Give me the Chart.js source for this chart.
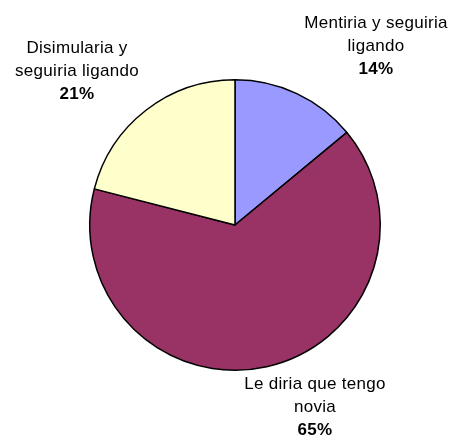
<!DOCTYPE html>
<html>
<head>
<meta charset="utf-8">
<script src="https://cdn.jsdelivr.net/npm/chart.js@4/dist/chart.umd.min.js"></script>
<style>
  html, body { margin:0; padding:0; background:#fff; }
  #wrap { width:454px; height:442px; }
</style>
</head>
<body>
<div id="wrap"><canvas id="pie_Chart" width="454" height="442"></canvas></div>
<script>
// valores
var categorias = [["Mentiria y seguiria", "ligando"], ["Le diria que tengo", "novia"], ["Disimularia y", "seguiria ligando"]];
var porcentajes = [14, 65, 21];
var colores = ["#9999FF", "#993366", "#FFFFCC"];

// desplazamiento de cada etiqueta respecto al centro del pie
var labelOffsets = [[141, -202], [80, 159], [-158, -177]];

var etiquetas = {
    id: "etiquetas",
    afterDatasetsDraw: function(chart) {
        var ctx = chart.ctx;
        var meta = chart.getDatasetMeta(0);
        ctx.save();
        ctx.fillStyle = "#000";
        ctx.textAlign = "center";
        ctx.textBaseline = "middle";
        ctx.letterSpacing = "0.3px";
        for (let i = 0; i < meta.data.length; i++) {
            let arc = meta.data[i];
            let x = arc.x + labelOffsets[i][0];
            let y = arc.y + labelOffsets[i][1];
            let lines = categorias[i];
            ctx.font = "17px 'Liberation Sans', Arial, sans-serif";
            for (let j = 0; j < lines.length; j++) {
                ctx.fillText(lines[j], x, y + j * 23);
            }
            ctx.font = "bold 17px 'Liberation Sans', Arial, sans-serif";
            ctx.fillText(porcentajes[i] + "%", x, y + lines.length * 23);
        }
        ctx.restore();
    }
};

var pieChart = new Chart(document.getElementById("pie_Chart"), {
    type: "pie",
    plugins: [etiquetas],
    options: {
        responsive: false,
        animation: false,
        layout: { padding: { left: 89, right: 73, top: 79, bottom: 71 } },
        plugins: {
            legend: { display: false },
            tooltip: { enabled: false }
        }
    },
    data: {
        labels: categorias.map(function(c){ return c.join(" "); }),
        datasets: [{
            data: porcentajes,
            backgroundColor: colores,
            borderColor: "#000",
            borderWidth: 1.5
        }]
    }
});
</script>
</body>
</html>
